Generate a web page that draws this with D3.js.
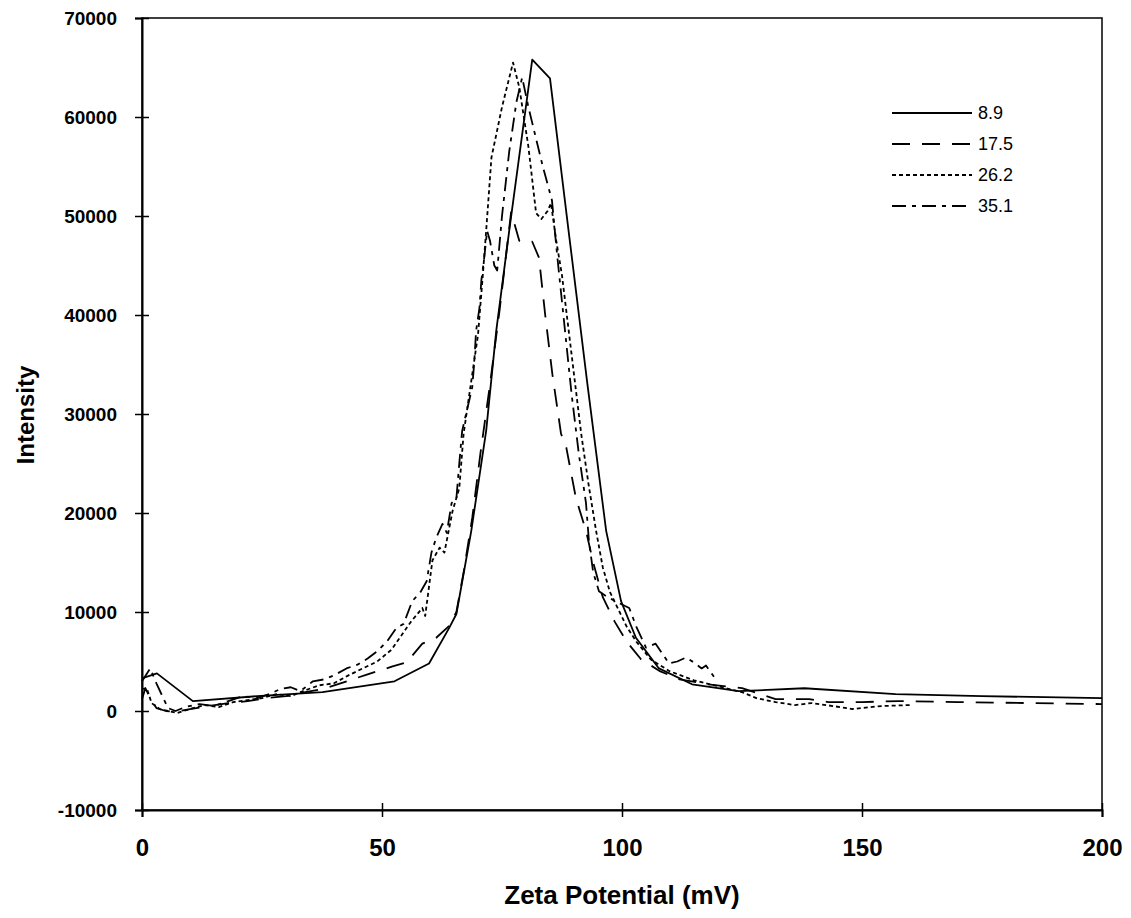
<!DOCTYPE html>
<html>
<head>
<meta charset="utf-8">
<script src="https://cdn.jsdelivr.net/npm/d3@7"></script>
<style>
  html, body { margin: 0; padding: 0; background: #fff; overflow: hidden; }
  svg { display: block; font-family: "Liberation Sans", Arial, sans-serif; }
  text { font-family: "Liberation Sans", Arial, sans-serif; font-weight: 700; fill: #000; }
</style>
</head>
<body>
<svg id="chart" width="1131" height="918"></svg>
<script>

/****************************/
/*           Data           */
/****************************/
const seriesLabels = ["8.9", "17.5", "26.2", "35.1"];

const xTicks = [0, 50, 100, 150, 200];
const yTicks = [-10000, 0, 10000, 20000, 30000, 40000, 50000, 60000, 70000];

// [zeta potential (mV), intensity]
const series89 = [
  [0, 3300], [3.1, 3800], [10.6, 1000], [24, 1500], [37.6, 1900], [52.6, 3000],
  [59.8, 4800], [64, 8400], [65.5, 9800], [68.6, 18200], [71.7, 28300], [73.8, 38400],
  [76.5, 48500], [81.3, 65800], [85, 63900], [89, 48000], [92.8, 33000], [96.7, 18200],
  [99.8, 11100], [102.9, 7400], [107.7, 4300], [114.6, 2700], [124.3, 2000], [138, 2300],
  [157, 1700], [175, 1500], [200, 1300]
];

const series175 = [
  [0, 1200], [0.7, 2300], [1.5, 1500], [3, 300], [5, 0], [7, -100], [10, 200], [14, 500],
  [18, 800], [22, 1000], [26, 1300], [30, 1500], [34, 1900], [37.6, 2200], [42, 2900],
  [47, 3700], [52.2, 4500], [55.1, 4900], [58.4, 6800], [61.3, 7400], [64, 8600],
  [65.5, 10000], [67, 14000], [68.8, 19500], [70.5, 26000], [72.5, 33000], [74.5, 40500],
  [76.9, 50400], [78.6, 47500], [79.5, 47300], [81.3, 47400], [82.7, 45800], [84, 40000],
  [85.5, 34000], [87.3, 28000], [88.4, 26600], [90.4, 21500], [92.5, 18200], [94, 15000],
  [96, 11500], [98.5, 9000], [101, 7000], [104, 5200], [108, 4000], [112, 3200],
  [118, 2700], [125, 2300], [132, 1200], [139, 1200], [143, 900], [150, 900],
  [157.6, 1000], [170, 900], [185, 800], [200, 700]
];

const series262 = [
  [0, 2200], [1, 2300], [2, 800], [3.7, 200], [7.3, -200], [10, 200], [13, 600], [16, 400],
  [19, 900], [22, 1100], [25, 1300], [28, 1700], [31, 1500], [34, 2100], [37, 2600],
  [40, 2800], [43, 3600], [46, 4300], [49, 5000], [52, 6200], [54, 7600], [56, 9000],
  [58.4, 10400], [59, 9600], [60.5, 15200], [62, 16500], [63, 16000], [64.7, 20200],
  [66.1, 22500], [67, 28000], [68.5, 33000], [70, 38000], [71, 44000], [71.7, 48500],
  [72.8, 55900], [75, 61000], [77.3, 65500], [78.6, 63000], [80.5, 57000], [82.1, 50300],
  [83.2, 49700], [84.5, 50500], [85.2, 51300], [86.3, 47500], [87.5, 44000], [89.5, 36000],
  [91.5, 28000], [93, 23000], [94.6, 18200], [96, 14500], [97.5, 12000], [99, 10500],
  [101, 8500], [103, 7000], [106, 5200], [110, 4000], [115, 3100], [120, 2500],
  [125, 1900], [128, 1300], [132, 900], [136, 600], [139.5, 800], [144, 500],
  [148, 200], [154, 500], [160, 600]
];

const series351 = [
  [0, 3000], [1.7, 4300], [3, 2800], [5.4, 300], [7, 0], [9, 400], [12, 700], [15, 500],
  [18, 1000], [21, 1500], [24, 1300], [27, 1800], [28.7, 2200], [31, 2400], [33, 2000],
  [35.6, 3000], [38, 3200], [40, 3600], [42.6, 4300], [45, 4700], [47, 5300], [48.9, 6000],
  [51, 7000], [53, 8400], [54.5, 8800], [56.3, 11100], [58, 12000], [59.3, 13100],
  [60.3, 16000], [61.3, 17500], [62.6, 18900], [63.5, 18000], [64.5, 21000], [65.5, 21500],
  [66.1, 25000], [66.7, 28300], [67.8, 30600], [68.8, 32700], [69.2, 35100], [69.6, 38400],
  [70.3, 40700], [70.7, 43500], [71.3, 45800], [71.9, 48500], [72.5, 47500], [73.4, 45000],
  [74, 44500], [75, 50000], [76.5, 56500], [78, 61500], [79.2, 64000], [80.5, 61000],
  [82, 58000], [83.5, 55000], [85.4, 51600], [86.5, 46000], [88, 39000], [89.5, 32000],
  [91, 26000], [92.5, 21000], [93.1, 17200], [94, 14000], [95.2, 12100], [97, 11500],
  [99, 11000], [101.5, 10400], [103, 8500], [105, 6400], [107, 6800], [109.8, 4800],
  [111.5, 5000], [113.3, 5400], [115, 4900], [116.6, 4300], [117.5, 4600], [119.8, 3000]
];

const dashes = ["none", "18,12", "4,3", "14,6,4,6"];

/****************************/
/*       Chart set-up       */
/****************************/
const width = 1131;
const height = 918;
const margin = { top: 18, right: 29, bottom: 108, left: 142 };
const innerWidth = width - margin.left - margin.right;
const innerHeight = height - margin.top - margin.bottom;

const svg = d3.select("#chart");

const innerChart = svg.append("g")
  .attr("transform", `translate(${margin.left}, ${margin.top})`);

const xScale = d3.scaleLinear()
  .domain([0, 200])
  .range([0, innerWidth]);

const yScale = d3.scaleLinear()
  .domain([-10000, 70000])
  .range([innerHeight, 0]);

/****************************/
/*           Axes           */
/****************************/
innerChart.append("rect")
  .attr("width", innerWidth)
  .attr("height", innerHeight)
  .attr("fill", "none")
  .attr("stroke", "#000")
  .attr("stroke-width", 1.5);

innerChart.append("g")
  .attr("transform", `translate(0, ${innerHeight})`)
  .call(d3.axisBottom(xScale).tickValues(xTicks).tickSize(7).tickPadding(22))
  .call(g => g.select(".domain").attr("stroke-width", 2))
  .call(g => g.selectAll(".tick line").attr("y1", -7).attr("stroke-width", 1.5))
  .call(g => g.selectAll(".tick text")
    .attr("font-size", 24)
    .style("font-weight", 700));

innerChart.append("g")
  .call(d3.axisLeft(yScale)
    .tickValues(yTicks)
    .tickSize(7)
    .tickPadding(18)
    .tickFormat(d => String(d)))
  .call(g => g.select(".domain").attr("stroke-width", 2))
  .call(g => g.selectAll(".tick line").attr("x1", 7).attr("stroke-width", 1.5))
  .call(g => g.selectAll(".tick text")
    .attr("font-size", 19)
    .style("font-weight", 700));

svg.append("text")
  .attr("x", margin.left + innerWidth / 2)
  .attr("y", 904)
  .attr("text-anchor", "middle")
  .attr("font-size", 26)
  .text("Zeta Potential (mV)");

svg.append("text")
  .attr("transform", "translate(34, 415) rotate(-90)")
  .attr("text-anchor", "middle")
  .attr("font-size", 24)
  .text("Intensity");

/****************************/
/*          Lines           */
/****************************/
const line = d3.line()
  .x(d => xScale(d[0]))
  .y(d => yScale(d[1]));

const allSeries = [series89, series175, series262, series351];

innerChart.selectAll(".series-line")
  .data(allSeries)
  .join("path")
    .attr("class", "series-line")
    .attr("d", d => line(d))
    .attr("fill", "none")
    .attr("stroke", "#000")
    .attr("stroke-width", 1.8)
    .attr("stroke-linejoin", "round")
    .attr("stroke-dasharray", (_, i) => dashes[i]);

/****************************/
/*          Legend          */
/****************************/
const legend = svg.append("g")
  .attr("transform", "translate(892, 113)");

const legendRows = legend.selectAll(".legend-row")
  .data(seriesLabels)
  .join("g")
    .attr("class", "legend-row")
    .attr("transform", (_, i) => `translate(0, ${i * 31})`);

legendRows.append("line")
  .attr("x1", 0)
  .attr("x2", 80)
  .attr("stroke", "#000")
  .attr("stroke-width", 1.8)
  .attr("stroke-dasharray", (_, i) => dashes[i]);

legendRows.append("text")
  .attr("x", 86)
  .attr("dy", "0.35em")
  .attr("font-size", 18)
  .style("font-weight", 400)
  .text(d => d);

</script>
</body>
</html>
